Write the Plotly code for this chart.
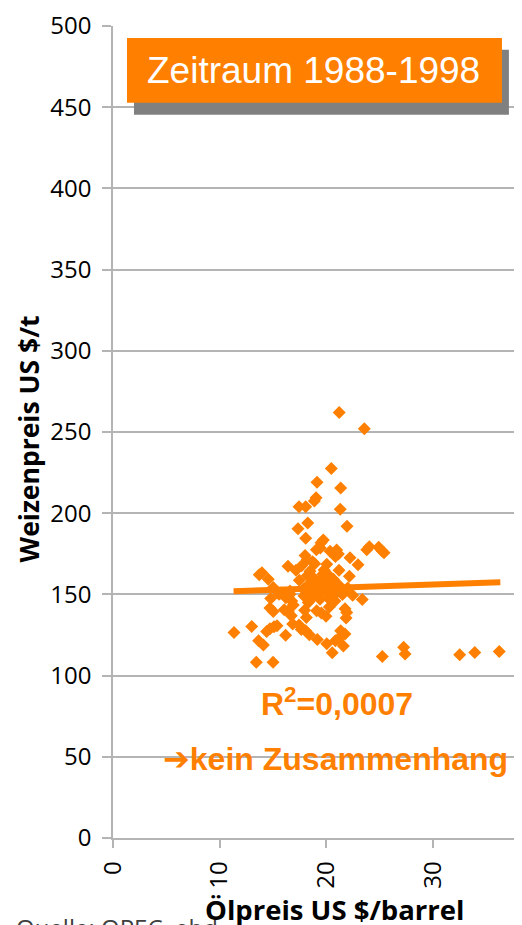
import plotly.graph_objects as go

# Scatter data: oil price (US $/barrel) vs wheat price (US $/t), 1988-1998
oil = [21.2, 23.55, 20.46, 19.12, 21.34, 19.03, 18.87, 17.43, 18.06, 21.3,
       17.34, 18.25, 21.93, 18.06, 19.71, 19.43, 19.06, 19.5, 20.34, 20.96,
       21.12, 20.84, 23.78, 24.02, 24.9, 25.2, 25.4, 22.21, 22.96, 18.0,
       18.2, 18.7, 18.9, 16.4, 17.68, 17.15, 18.46, 18.21, 20.03, 19.78,
       19.65, 19.87, 20.12, 21.18, 22.15, 13.96, 13.71, 14.55, 17.46, 18.77,
       18.62, 19.34, 20.65, 20.34, 15.02, 15.56, 15.71, 16.59, 16.75, 14.78,
       16.59, 17.84, 18.46, 19.09, 19.4, 20.03, 20.65, 20.96, 18.3, 19.4,
       18.4, 22.46, 23.36, 14.71, 15.02, 16.05, 16.43, 16.71, 17.96, 18.12,
       19.09, 19.53, 19.96, 20.27, 21.74, 21.9, 21.84, 13.0, 11.34, 14.4,
       14.71, 15.09, 15.37, 16.18, 16.84, 17.43, 17.65, 18.06, 18.4, 19.15,
       20.03, 20.55, 20.84, 21.15, 21.59, 21.34, 21.74, 13.65, 14.09, 13.43,
       15.0, 25.24, 27.24, 27.37, 32.49, 33.9, 36.2,
       18.8, 19.6, 20.4, 19.9, 18.5, 20.8, 21.5, 17.9, 20.2, 16.9,
       21.2, 18.4, 22.0, 16.2]
wheat = [262, 252, 227.5, 219, 215.5, 209.5, 207.5, 204, 204, 202.5,
         190.5, 194, 192, 184.5, 183.5, 178.5, 177.5, 181.8, 176.5, 177.3,
         174.8, 173.4, 177.5, 179.3, 179.1, 176.9, 175.6, 172.6, 168.3, 174,
         171.4, 170.1, 168.9, 167.3, 167.7, 164.8, 164.2, 161.6, 168.5, 165,
         162.4, 160.3, 162.4, 164.8, 161.1, 163.4, 162.1, 159.3, 158.7, 160.3,
         157.2, 158.3, 159.3, 156.2, 154.2, 150.1, 150.9, 150.1, 146, 147.4,
         152.1, 153.2, 152.1, 153.2, 150.1, 152.1, 149.1, 151.1, 145, 147,
         146, 149.4, 146.8, 141.7, 139.5, 140.5, 139.7, 136.8, 140.3, 135.8,
         139.9, 138.5, 136.6, 142.3, 141.1, 138.8, 135.4, 130.3, 126.6, 127.2,
         128.8, 130.1, 130.7, 124.8, 131.7, 131.1, 128.4, 127.6, 125.2, 122.3,
         119.6, 114.1, 121.5, 122.9, 118.2, 127.6, 125.6, 121.5, 118.8, 108.2,
         108.2, 111.7, 117.4, 113.3, 112.9, 114.3, 114.9,
         155, 156, 154, 158, 148.5, 146, 150, 149, 147.5, 143.5,
         155.5, 156.5, 154, 148]

# Linear trend line (as drawn in the reference)
trend_x = [11.3, 36.3]
trend_y = [152.0, 157.5]

y_ticks = [0, 50, 100, 150, 200, 250, 300, 350, 400, 450, 500]
x_ticks = [0, 10, 20, 30]

ORANGE = "#FF8000"
GRID = "#B4B4B4"

fig = go.Figure()
fig.add_trace(go.Scatter(
    x=oil, y=wheat, mode="markers",
    marker=dict(symbol="diamond", size=10, color=ORANGE, line=dict(width=0)),
    showlegend=False, hoverinfo="skip"))
fig.add_trace(go.Scatter(
    x=trend_x, y=trend_y, mode="lines",
    line=dict(color=ORANGE, width=6),
    showlegend=False, hoverinfo="skip"))

# page body has an 8px margin, so the figure is 8px smaller than the window
fig.update_layout(
    width=514, height=917,
    margin=dict(l=105, r=0, t=15, b=87),
    paper_bgcolor="white", plot_bgcolor="white",
    font=dict(family="Open Sans", color="black"),
    xaxis=dict(range=[0, 38.33], tickvals=x_ticks, ticktext=[str(v) for v in x_ticks],
               tickangle=-90, tickfont=dict(size=24, family="Open Sans", color="black"),
               showgrid=False, zeroline=False,
               showline=True, linecolor=GRID, linewidth=1.5,
               ticks="outside", ticklen=8, tickcolor=GRID, tickwidth=1.5,
               ticklabelstandoff=4, ticklabeloverflow="allow"),
    yaxis=dict(range=[0, 500], tickvals=y_ticks, ticktext=[str(v) for v in y_ticks],
               tickfont=dict(size=24, family="Open Sans", color="black"),
               showgrid=True, gridcolor=GRID, gridwidth=1.5, zeroline=False,
               showline=True, linecolor=GRID, linewidth=1.5,
               ticks="outside", ticklen=9, tickcolor=GRID, tickwidth=1.5,
               ticklabelstandoff=6, ticklabeloverflow="allow"),
)

# Title box with shadow
fig.add_shape(type="rect", xref="paper", yref="paper",
              x0=0.0513, x1=0.968, y0=0.8908, y1=0.9706,
              fillcolor="#808080", line=dict(width=0), layer="above")
fig.add_shape(type="rect", xref="paper", yref="paper",
              x0=0.0342, x1=0.951, y0=0.9055, y1=0.9853,
              fillcolor=ORANGE, line=dict(width=0), layer="above")
fig.add_annotation(text="Zeitraum 1988-1998", xref="paper", yref="paper",
                   x=0.491, y=0.9448, xanchor="center", yanchor="middle", showarrow=False,
                   font=dict(family="Liberation Sans", size=37, color="white"))

fig.add_annotation(text="R<sup>2</sup>=0,0007", xref="paper", yref="paper",
                   x=0.548, y=0.1669, xanchor="center", yanchor="middle", showarrow=False,
                   font=dict(family="Liberation Sans", size=32, color=ORANGE, weight="bold"))
fig.add_annotation(text="<span style='font-family:DejaVu Sans'>\u2794</span>kein Zusammenhang",
                   xref="paper", yref="paper",
                   x=0.545, y=0.0969, xanchor="center", yanchor="middle", showarrow=False,
                   font=dict(family="Liberation Sans", size=32, color=ORANGE, weight="bold"))

# Axis titles and source note
fig.add_annotation(text="<b>Weizenpreis US $/t</b>", xref="paper", yref="paper",
                   x=-0.203, y=0.492, xanchor="center", yanchor="middle", showarrow=False,
                   textangle=-90, font=dict(family="Open Sans", size=26.5, color="black"))
fig.add_annotation(text="Quelle: OPEC, ebd.", xref="paper", yref="paper",
                   x=-0.242, y=-0.0871, xanchor="left", yanchor="top", showarrow=False,
                   font=dict(family="Open Sans", size=24, color="#404040"))
fig.add_annotation(text="<b>Ölpreis US $/barrel</b>", xref="paper", yref="paper",
                   x=0.542, y=-0.0884, xanchor="center", yanchor="middle", showarrow=False,
                   font=dict(family="Open Sans", size=27.5, color="black"))

fig.write_html("out.html")
